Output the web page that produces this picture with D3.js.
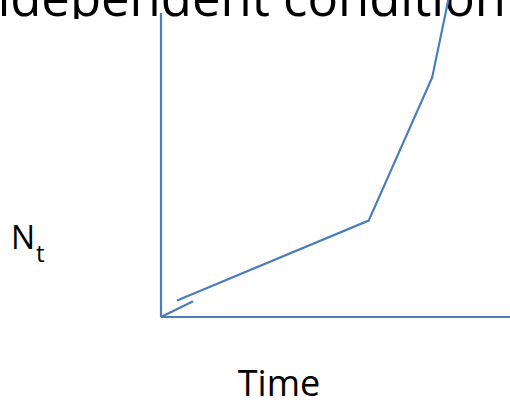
<!DOCTYPE html>
<html>
<head>
<meta charset="utf-8">
<script src="https://cdn.jsdelivr.net/npm/d3@7"></script>
<style>
  html, body { margin: 0; padding: 0; background: #fff; overflow: hidden; }
</style>
</head>
<body>
<div id="chart"></div>
<script>
// 數據 (時間, 個體數)
const timeDomain = [0, 10];
const nDomain = [0, 100];
const shortTime = [0, 0.92];
const shortN = [0, 5.2];
const curveTime = [0.46, 5.95, 7.77, 8.3];
const curveN = [5.4, 31.7, 78.8, 108];
const titleText = "independent condition";
const xLabel = "Time";
const yLabel = "N";
const ySub = "t";

const width = 510, height = 406;
const blue = "#4a7ebb";
const font = "'Open Sans', 'Noto Sans', sans-serif";

const svg = d3.select("#chart").append("svg")
  .attr("width", width)
  .attr("height", height);

const x = d3.scaleLinear().domain(timeDomain).range([161, 510]);
const y = d3.scaleLinear().domain(nDomain).range([317, 13]);

// 標題 (被裁切)
const title = svg.append("text")
  .attr("x", 506)
  .attr("y", 16)
  .attr("text-anchor", "end")
  .attr("font-family", font)
  .attr("font-size", 40)
  .attr("fill", "#000")
  .text(titleText);
// 調整字號讓 "d" 從 x=10 開始
const node = title.node();
const s0 = node.getStartPositionOfChar(2).x;
const f = 40 * 496 / (506 - s0);
title.attr("font-size", f);

// 圖區白底蓋住標題下緣
svg.append("rect")
  .attr("x", 0).attr("y", 19)
  .attr("width", width).attr("height", height - 19)
  .attr("fill", "#fff");

// 座標軸
svg.append("line")
  .attr("x1", x(0)).attr("y1", y(nDomain[0]))
  .attr("x2", x(0)).attr("y2", y(nDomain[1]))
  .attr("stroke", blue).attr("stroke-width", 2.2);
svg.append("line")
  .attr("x1", x(timeDomain[0])).attr("y1", y(0))
  .attr("x2", x(timeDomain[1])).attr("y2", y(0))
  .attr("stroke", blue).attr("stroke-width", 2.2);

const line = d3.line().x(d => x(d[0])).y(d => y(d[1]));

svg.append("path")
  .attr("d", line(d3.zip(shortTime, shortN)))
  .attr("fill", "none").attr("stroke", blue).attr("stroke-width", 2.2);

svg.append("path")
  .attr("d", line(d3.zip(curveTime, curveN)))
  .attr("fill", "none").attr("stroke", blue).attr("stroke-width", 2.2);

// 軸標籤
svg.append("text")
  .attr("x", 279)
  .attr("y", 396)
  .attr("text-anchor", "middle")
  .attr("font-family", font)
  .attr("font-size", 36)
  .attr("fill", "#000")
  .text(xLabel);

const nt = svg.append("text")
  .attr("x", 11)
  .attr("y", 249)
  .attr("font-family", font)
  .attr("font-size", 32)
  .attr("fill", "#000");
nt.append("tspan").text(yLabel);
nt.append("tspan")
  .attr("font-size", 24)
  .attr("dy", 13)
  .attr("dx", 1)
  .text(ySub);
</script>
</body>
</html>
